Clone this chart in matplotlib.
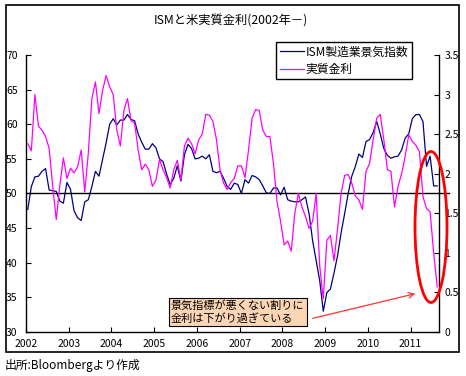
import matplotlib
matplotlib.use("Agg")
import matplotlib.pyplot as plt
import numpy as np
from matplotlib.patches import Ellipse, Rectangle

plt.rcParams['font.family'] = ['Noto Sans CJK JP', 'DejaVu Sans']

# ISM manufacturing index, monthly Jan 2002 - Aug 2011
ism = [47.7, 51.0, 52.4, 52.5, 53.2, 53.6, 50.5, 50.4, 50.3, 48.9, 48.6, 51.6,
       50.6, 47.5, 46.5, 46.1, 48.8, 49.1, 51.0, 53.2, 52.5, 54.9, 57.3, 60.0,
       60.8, 59.9, 60.6, 60.6, 61.4, 60.7, 60.5, 58.6, 57.4, 56.4, 56.4, 57.2,
       56.6, 55.0, 54.6, 52.8, 51.3, 52.2, 54.0, 51.8, 55.6, 57.1, 56.5, 55.0,
       55.1, 55.4, 55.0, 55.6, 53.2, 53.0, 53.2, 52.2, 51.0, 50.6, 51.5, 51.3,
       50.0, 52.0, 51.5, 52.6, 52.4, 52.0, 51.1, 50.1, 50.0, 50.8, 50.8, 49.8,
       50.9, 49.1, 48.9, 48.8, 48.8, 49.1, 49.5, 47.1, 43.2, 40.3, 37.4, 33.0,
       35.7, 36.2, 38.5, 41.0, 44.3, 47.1, 50.0, 52.5, 53.9, 55.7, 55.2, 57.5,
       57.8, 58.8, 60.4, 58.6, 56.5, 55.5, 55.1, 55.3, 55.4, 56.3, 58.0, 58.6,
       60.8, 61.4, 61.4, 60.4, 53.9, 55.4, 51.1, 51.1]

# real interest rate (%), right axis
real_rate = [2.38, 2.29, 3.00, 2.60, 2.55, 2.47, 2.32, 1.84, 1.42, 1.85, 2.20, 1.94,
             2.07, 2.01, 2.09, 2.30, 1.77, 2.26, 2.95, 3.16, 2.76, 3.05, 3.24, 3.10,
             3.00, 2.55, 2.35, 2.80, 2.95, 2.67, 2.64, 2.30, 2.05, 2.12, 2.05, 1.84,
             1.92, 2.18, 2.05, 1.95, 1.82, 2.05, 2.17, 1.92, 2.35, 2.45, 2.38, 2.25,
             2.43, 2.50, 2.75, 2.74, 2.66, 2.43, 2.05, 1.88, 1.80, 1.89, 1.94, 2.10,
             2.10, 1.95, 2.30, 2.70, 2.81, 2.80, 2.55, 2.47, 2.47, 2.13, 1.65, 1.40,
             1.10, 1.15, 1.02, 1.50, 1.75, 1.58, 1.46, 1.31, 1.40, 1.75, 0.83, 0.42,
             1.16, 1.22, 0.90, 1.30, 1.75, 1.98, 1.99, 1.88, 1.72, 1.67, 1.55, 2.03,
             2.13, 2.43, 2.70, 2.75, 2.43, 2.05, 2.03, 1.58, 1.84, 2.00, 2.22, 2.49,
             2.41, 2.36, 2.28, 1.71, 1.56, 1.52, 1.00, 0.57]

years = [str(y) for y in range(2002, 2012)]
left_ticks = [30, 35, 40, 45, 50, 55, 60, 65, 70]
right_ticks = [0, 0.5, 1, 1.5, 2, 2.5, 3, 3.5]
right_labels = ["0", "0.5", "1", "1.5", "2", "2.5", "3", "3.5"]

W, H = 466, 376


def fx(px):
    return px / W


def fy(py):
    return 1 - py / H


fig = plt.figure(figsize=(W / 100, H / 100), dpi=100)
ax = fig.add_axes([fx(26), fy(332), fx(439) - fx(26), fy(55) - fy(332)])
ax2 = ax.twinx()

x = np.arange(len(ism)) + 0.5
ax.plot(x, ism, color="#000080", lw=0.9, label="ISM製造業景気指数")
ax2.plot(x, real_rate, color="#FF00FF", lw=0.9, label="実質金利")

ax.set_xlim(0, len(ism))
ax.set_ylim(30, 70)
ax2.set_ylim(0, 3.5)
ax.set_yticks(left_ticks)
ax.set_xticks(np.arange(len(years)) * 12)
ax.set_xticklabels(years)
ax2.set_yticks(right_ticks)
ax2.set_yticklabels(right_labels)

ax.axhline(50, xmin=0, xmax=(449 - 26) / (439 - 26), color="black", lw=1, clip_on=False)

for a in (ax, ax2):
    a.spines['top'].set_visible(False)
    for s in a.spines.values():
        s.set_linewidth(1.0)
ax.spines['right'].set_visible(False)
ax2.spines['left'].set_visible(False)
ax2.spines['bottom'].set_visible(False)
ax.tick_params(axis='y', direction='in', length=3.5, labelsize=7.5, pad=6)
ax.tick_params(axis='x', direction='in', length=3.5, labelsize=7.5, pad=5)
ax2.tick_params(axis='y', direction='in', length=3.5, labelsize=7.5, pad=4)

h1, l1 = ax.get_legend_handles_labels()
h2, l2 = ax2.get_legend_handles_labels()
leg = ax2.legend(h1 + h2, l1 + l2, loc='upper left',
                 bbox_to_anchor=(fx(276), fy(42)), bbox_transform=fig.transFigure,
                 borderaxespad=0, fontsize=8.5, handlelength=2.1, handletextpad=0.1,
                 borderpad=0.3, labelspacing=0.35, fancybox=False,
                 framealpha=1, edgecolor="black")
leg.get_frame().set_linewidth(1.0)

fig.text(fx(231), fy(20), "ISMと米実質金利(2002年－)", ha="center", va="center", fontsize=8.8)
fig.text(fx(5), fy(365), "出所:Bloombergより作成", ha="left", va="center", fontsize=8.5)

fig.text(fx(171), fy(312), "景気指標が悪くない割りに\n金利は下がり過ぎている",
         ha="left", va="center", fontsize=8, linespacing=1.3,
         bbox=dict(boxstyle="square,pad=0.2", fc="#FCD5B4", ec="black", lw=0.8))

ax.annotate("", xy=(fx(418), fy(293)), xytext=(fx(310), fy(319)),
            xycoords='figure fraction', textcoords='figure fraction',
            arrowprops=dict(arrowstyle="->", color="#FF3333", lw=0.9))

fig.add_artist(Ellipse((fx(431), fy(227)), fx(32), 151 / H, transform=fig.transFigure,
                       fill=False, ec="#FF0000", lw=2.0))

fig.add_artist(Rectangle((fx(6), fy(352)), fx(459) - fx(6), fy(5) - fy(352),
                         transform=fig.transFigure, fill=False, ec="black", lw=1.2))

fig.savefig("out.png", dpi=100)
